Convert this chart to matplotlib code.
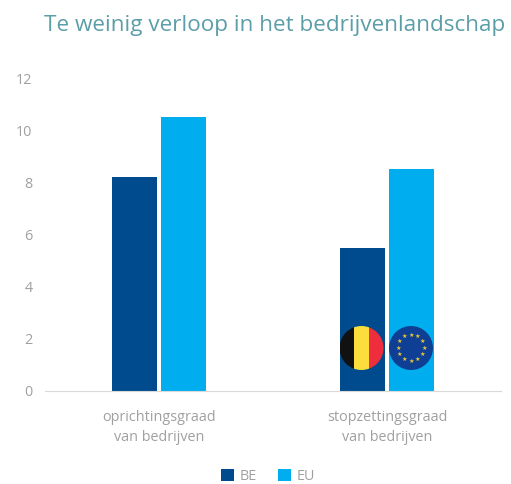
import numpy as np
import matplotlib
matplotlib.use("Agg")
import matplotlib.pyplot as plt
from matplotlib.patches import Circle, Rectangle

categories = ["oprichtingsgraad\nvan bedrijven", "stopzettingsgraad\nvan bedrijven"]
be_values = [8.2, 5.5]
eu_values = [10.5, 8.5]
y_ticks = [0, 2, 4, 6, 8, 10, 12]

plt.rcParams['font.family'] = ['Open Sans', 'DejaVu Sans']
grey = '#a0a0a0'

fig = plt.figure(figsize=(5.11, 4.84), dpi=100)
# as: x 45-501 px, y 78-391 px
ax = fig.add_axes([45/511, 1-391/484, 456/511, 313/484])

x = np.arange(len(categories))
w = 45/228
gap = 4/228
ax.bar(x-(w+gap)/2, be_values, w, color='#004B8D', label='BE')
ax.bar(x+(w+gap)/2, eu_values, w, color='#00AEEF', label='EU')

ax.set_xlim(-0.5, 1.5)
ax.set_ylim(0, 12)
ax.set_yticks(y_ticks)
ax.set_xticks(x)
ax.set_xticklabels(categories, fontsize=10.4, color=grey, linespacing=1.4)
ax.tick_params(axis='y', length=0, labelsize=10.4, labelcolor=grey, pad=9)
ax.tick_params(axis='x', length=0, pad=14)
for s in ['top', 'right', 'left']:
    ax.spines[s].set_visible(False)
ax.spines['bottom'].set_color('#d9d9d9')

# vlaggen in pixelcoordinaten
clip = Circle((361.5, 484-348), 22, transform=None, fc='none', ec='none')
fig.add_artist(clip)
for i, c in enumerate(['#111111', '#FBDD3C', '#EE2E3C']):
    rct = Rectangle((339.5+i*44/3, 484-370), 44/3, 44, transform=None, color=c, lw=0)
    fig.add_artist(rct)
    rct.set_clip_path(clip)
cx2, cy2 = 411, 348
fig.add_artist(Circle((cx2, 484-cy2), 22, transform=None, fc='#0F3F94', ec='none'))
for a in np.arange(0, 360, 30):
    fig.text((cx2+13*np.cos(np.radians(a)))/511, (484-cy2+13*np.sin(np.radians(a)))/484, '\u2605',
             color='#E8C93A', fontsize=4.5, ha='center', va='center', family='DejaVu Sans')

fig.text(44/511, 1-25/484, 'Te weinig verloop in het bedrijvenlandschap', fontsize=16.2,
         color='#5B9EA8', ha='left', va='center')

ax.legend(loc='center', bbox_to_anchor=(268/511, 1-476/484), bbox_transform=fig.transFigure, ncol=2,
          frameon=False, fontsize=10.4, labelcolor=grey, handlelength=0.9, handleheight=0.9,
          columnspacing=1.5, handletextpad=0.4, borderpad=0, borderaxespad=0)

fig.savefig('out.png', dpi=100)
